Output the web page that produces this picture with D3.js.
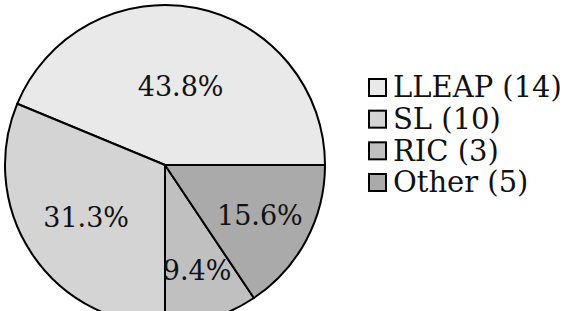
<!DOCTYPE html>
<html>
<head>
<meta charset="utf-8">
<script src="https://cdn.jsdelivr.net/npm/d3@7"></script>
<style>
  body { margin: 0; background: #fff; }
</style>
</head>
<body>
<svg id="chart" width="569" height="311"></svg>
<script>
// chart data
var categories = ['LLEAP', 'SL', 'RIC', 'Other'];
var counts = [14, 10, 3, 5];
var pctLabels = ['43.8%', '31.3%', '9.4%', '15.6%'];
var fills = ['#e9e9e9', '#d4d4d4', '#c0c0c0', '#aaaaaa'];

var FONT = "'DejaVu Serif', serif";

var svg = d3.select('#chart');

var cx = 165, cy = 165, radius = 160;

// slices run counter-clockwise starting at 3 o'clock
var pie = d3.pie().sort(null).value(function(d) { return d; })
  .startAngle(Math.PI / 2).endAngle(Math.PI / 2 - 2 * Math.PI);
var arcs = pie(counts);

var arc = d3.arc().innerRadius(0).outerRadius(radius);

// label sits near the centroid of each sector
function labelPos(d) {
  var half = Math.abs(d.endAngle - d.startAngle) / 2;
  var mid = (d.startAngle + d.endAngle) / 2;
  var dist = 1.05 * 2 * radius * Math.sin(half) / (3 * half);
  return [dist * Math.sin(mid), -dist * Math.cos(mid)];
}

var g = svg.append('g').attr('transform', 'translate(' + cx + ',' + cy + ')');

g.selectAll('path.slice')
  .data(arcs)
  .enter().append('path')
  .attr('class', 'slice')
  .attr('d', arc)
  .attr('fill', function(d, i) { return fills[i]; })
  .attr('stroke', '#000')
  .attr('stroke-width', 2)
  .attr('stroke-linejoin', 'round');

g.selectAll('text.pct')
  .data(arcs)
  .enter().append('text')
  .attr('class', 'pct')
  .attr('transform', function(d) { return 'translate(' + labelPos(d) + ')'; })
  .attr('text-anchor', 'middle')
  .attr('dy', '0.36em')
  .attr('font-family', FONT)
  .attr('font-size', 27)
  .attr('fill', '#111')
  .text(function(d, i) { return pctLabels[i]; });

// legend
var legend = svg.append('g').attr('transform', 'translate(369,87)');
var rowY = d3.scalePoint().domain(categories).range([0, 95]);

var rows = legend.selectAll('g.row')
  .data(categories)
  .enter().append('g')
  .attr('class', 'row')
  .attr('transform', function(d) { return 'translate(0,' + rowY(d) + ')'; });

rows.append('rect')
  .attr('x', 0).attr('y', -8)
  .attr('width', 17).attr('height', 17)
  .attr('fill', function(d, i) { return fills[i]; })
  .attr('stroke', '#000')
  .attr('stroke-width', 2);

rows.append('text')
  .attr('x', 24)
  .attr('y', 0)
  .attr('dy', '0.36em')
  .attr('font-family', FONT)
  .attr('font-size', 29)
  .attr('fill', '#111')
  .text(function(d, i) { return d + ' (' + counts[i] + ')'; });
</script>
</body>
</html>
